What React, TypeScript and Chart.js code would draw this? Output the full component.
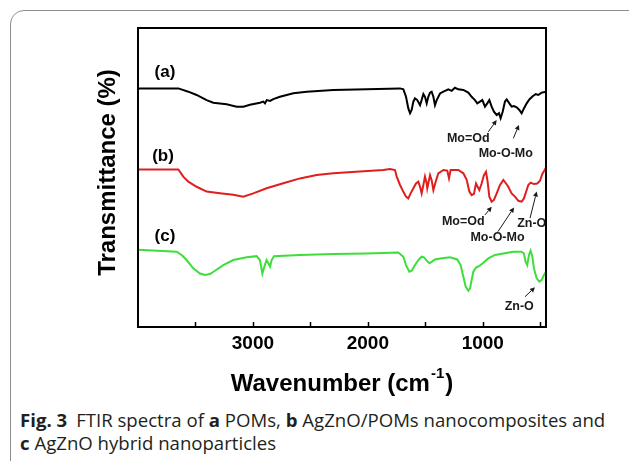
import React, { useEffect, useRef } from "react";
import { Chart, registerables } from "chart.js";

Chart.register(...registerables);

// ---- axis ----
const X_MIN = 450;
const X_MAX = 4000;
const Y_MIN = 0;
const Y_MAX = 100;
const TICK_MARKS = [500, 1000, 1500, 2000, 2500, 3000, 3500];
const TICK_LABELS = [1000, 2000, 3000];
const X_TITLE = "Wavenumber (cm";
const X_TITLE_SUP = "-1";
const X_TITLE_END = ")";
const Y_TITLE = "Transmittance (%)";

// ---- series: [wavenumber cm-1, transmittance (arb.)] ----
const SERIES_A: [number, number][] = [
  [4000, 79.8], [3649, 79.8], [3562, 78.7], [3490, 77.6], [3403, 75.9], [3345, 75.0],
  [3229, 74.5], [3141, 73.7], [3084, 73.7], [3026, 74.3], [2939, 75.0], [2910, 75.4],
  [2895, 74.8], [2880, 75.9], [2851, 75.6], [2823, 76.2], [2765, 77.0], [2648, 78.2],
  [2532, 78.7], [2301, 79.3], [2010, 79.5], [1720, 79.8], [1691, 79.5], [1668, 77.0],
  [1648, 73.1], [1633, 71.5], [1619, 72.6], [1604, 75.4], [1590, 76.5], [1570, 75.9],
  [1546, 74.2], [1532, 75.9], [1517, 77.9], [1503, 77.0], [1488, 74.8], [1474, 77.0],
  [1459, 78.4], [1445, 78.7], [1430, 77.0], [1416, 74.2], [1401, 75.9], [1372, 78.1],
  [1343, 78.7], [1300, 79.5], [1271, 79.0], [1242, 80.0], [1213, 79.5], [1169, 79.3],
  [1126, 78.4], [1097, 77.0], [1068, 75.9], [1048, 74.8], [1024, 75.4], [1004, 75.9],
  [981, 73.7], [961, 74.8], [943, 75.9], [923, 73.7], [903, 72.0], [879, 70.9],
  [859, 71.5], [845, 69.8], [827, 72.0], [807, 75.4], [792, 76.1], [769, 74.8],
  [749, 73.7], [729, 73.9], [705, 73.5], [682, 72.6], [662, 71.5], [642, 73.1],
  [618, 74.8], [595, 76.1], [566, 77.2], [540, 77.9], [517, 77.6], [488, 78.4],
  [459, 78.6], [450, 78.8],
];

const SERIES_B: [number, number][] = [
  [4000, 52.7], [3649, 52.7], [3606, 50.3], [3562, 48.6], [3490, 46.9], [3403, 45.3],
  [3287, 44.7], [3171, 44.2], [3084, 43.6], [2997, 44.7], [2881, 46.4], [2736, 48.1],
  [2591, 49.7], [2446, 50.8], [2301, 51.4], [2069, 52.0], [1866, 52.5], [1807, 52.8],
  [1764, 52.5], [1749, 50.3], [1720, 47.5], [1691, 45.2], [1668, 43.6], [1648, 43.0],
  [1628, 44.7], [1604, 46.4], [1581, 48.0], [1561, 48.6], [1546, 46.9], [1532, 44.7],
  [1517, 47.5], [1503, 50.3], [1488, 48.0], [1483, 46.4], [1471, 48.6], [1459, 50.8],
  [1445, 49.1], [1430, 45.8], [1410, 48.6], [1387, 51.4], [1343, 52.5], [1309, 52.3],
  [1294, 49.7], [1280, 52.5], [1213, 52.5], [1169, 51.4], [1140, 49.2], [1117, 45.3],
  [1097, 44.1], [1077, 44.5], [1059, 48.0], [1045, 46.9], [1030, 45.8], [1010, 48.0],
  [990, 50.8], [972, 51.9], [958, 48.6], [943, 43.6], [923, 41.9], [903, 42.5],
  [879, 44.7], [850, 47.5], [821, 49.2], [798, 48.0], [778, 46.9], [749, 44.7],
  [720, 43.6], [691, 42.2], [662, 41.9], [642, 43.0], [618, 45.8], [604, 47.5],
  [584, 48.3], [555, 47.8], [526, 48.0], [502, 48.9], [482, 51.2], [459, 52.7],
  [450, 53.4],
];

const SERIES_C: [number, number][] = [
  [4000, 25.8], [3664, 25.2], [3620, 24.1], [3577, 22.4], [3519, 19.6], [3461, 17.9],
  [3417, 17.4], [3374, 17.7], [3330, 18.8], [3258, 20.7], [3171, 22.4], [3055, 23.3],
  [2968, 23.7], [2939, 22.4], [2918, 17.9], [2901, 20.2], [2881, 22.4], [2866, 21.3],
  [2851, 20.2], [2837, 22.4], [2817, 23.7], [2591, 24.1], [2301, 24.4], [2010, 24.6],
  [1735, 24.9], [1691, 23.5], [1668, 20.7], [1639, 18.5], [1619, 18.8], [1590, 20.7],
  [1561, 22.4], [1532, 23.5], [1512, 23.3], [1488, 22.2], [1465, 21.3], [1445, 21.8],
  [1416, 22.6], [1372, 22.9], [1285, 23.3], [1222, 22.6], [1193, 20.7], [1169, 16.8],
  [1149, 13.5], [1126, 12.1], [1111, 12.9], [1097, 15.7], [1082, 18.5], [1059, 19.9],
  [1030, 20.4], [995, 21.5], [952, 23.0], [894, 24.1], [821, 24.6], [734, 25.2],
  [662, 25.2], [642, 24.6], [627, 21.8], [613, 20.7], [598, 24.1], [584, 25.5],
  [569, 23.5], [555, 19.6], [531, 16.3], [508, 15.2], [488, 15.7], [468, 17.4],
  [450, 18.5],
];

const SERIES_NAMES = ["(a)", "(b)", "(c)"];
const SERIES_COLORS = ["#000000", "#e01e1e", "#3ede3a"];

// series tags, placed in data units
const SERIES_TAGS: { text: string; wn: number; t: number }[] = [
  { text: "(a)", wn: 3765, t: 85.3 },
  { text: "(b)", wn: 3782, t: 57.0 },
  { text: "(c)", wn: 3765, t: 30.2 },
];

// band assignments: text centre and arrow (from -> to), in data units
const BAND_NOTES: { text: string; wn: number; t: number; from: [number, number]; to: [number, number] }[] = [
  { text: "Mo=Od", wn: 1126, t: 63.1, from: [952, 65.3], to: [879, 69.2] },
  { text: "Mo-O-Mo", wn: 800, t: 58.1, from: [734, 63.1], to: [685, 67.6] },
  { text: "Mo=Od", wn: 1170, t: 35.2, from: [981, 37.5], to: [922, 40.2] },
  { text: "Mo-O-Mo", wn: 872, t: 29.9, from: [868, 31.9], to: [728, 40.0] },
  { text: "Zn-O", wn: 574, t: 34.7, from: [589, 36.4], to: [531, 45.3] },
  { text: "Zn-O", wn: 683, t: 6.8, from: [633, 10.1], to: [546, 13.3] },
];

const FONT = '"Liberation Sans", Arial, Helvetica, sans-serif';

const overlayPlugin = {
  id: "overlay",
  afterDraw(chart: any) {
    const { ctx, chartArea: a, scales } = chart;
    const xs = scales.x;
    const ys = scales.y;
    ctx.save();
    // frame
    ctx.strokeStyle = "#000";
    ctx.lineWidth = 2;
    ctx.strokeRect(a.left, a.top, a.right - a.left, a.bottom - a.top);
    // inward ticks
    ctx.lineWidth = 1.5;
    TICK_MARKS.forEach((v) => {
      const px = Math.round(xs.getPixelForValue(v)) + 0.5;
      ctx.beginPath();
      ctx.moveTo(px, a.bottom);
      ctx.lineTo(px, a.bottom - 5);
      ctx.stroke();
    });
    ctx.fillStyle = "#000";
    // y title
    ctx.font = `bold 24px ${FONT}`;
    ctx.textAlign = "center";
    ctx.textBaseline = "middle";
    ctx.save();
    ctx.translate(a.left - 30, (a.top + a.bottom) / 2 - 5);
    ctx.rotate(-Math.PI / 2);
    ctx.fillText(Y_TITLE, 0, 0);
    ctx.restore();
    // x title with superscript
    const mainFont = `bold 24px ${FONT}`;
    const supFont = `bold 15px ${FONT}`;
    ctx.font = mainFont;
    const w1 = ctx.measureText(X_TITLE).width;
    const w3 = ctx.measureText(X_TITLE_END).width;
    ctx.font = supFont;
    const w2 = ctx.measureText(X_TITLE_SUP).width;
    const total = w1 + w2 + 2 + w3;
    let x0 = (a.left + a.right) / 2 - total / 2;
    const yT = a.bottom + 57;
    ctx.textAlign = "left";
    ctx.font = mainFont;
    ctx.fillText(X_TITLE, x0, yT);
    ctx.font = supFont;
    ctx.fillText(X_TITLE_SUP, x0 + w1 + 1, yT - 10);
    ctx.font = mainFont;
    ctx.fillText(X_TITLE_END, x0 + w1 + w2 + 2, yT);
    // series tags
    ctx.textAlign = "center";
    ctx.font = `bold 17px ${FONT}`;
    SERIES_TAGS.forEach((s) => {
      ctx.fillText(s.text, xs.getPixelForValue(s.wn), ys.getPixelForValue(s.t));
    });
    // band notes + arrows
    ctx.font = `bold 12.5px ${FONT}`;
    ctx.fillStyle = "#1a1a1a";
    ctx.strokeStyle = "#1a1a1a";
    ctx.lineWidth = 1;
    BAND_NOTES.forEach((n) => {
      ctx.fillText(n.text, xs.getPixelForValue(n.wn), ys.getPixelForValue(n.t));
      const x1 = xs.getPixelForValue(n.from[0]);
      const y1 = ys.getPixelForValue(n.from[1]);
      const x2 = xs.getPixelForValue(n.to[0]);
      const y2 = ys.getPixelForValue(n.to[1]);
      const ang = Math.atan2(y2 - y1, x2 - x1);
      const hl = 5;
      const hw = 2.5;
      const bx = x2 - hl * Math.cos(ang);
      const by = y2 - hl * Math.sin(ang);
      ctx.beginPath();
      ctx.moveTo(x1, y1);
      ctx.lineTo(bx, by);
      ctx.stroke();
      ctx.beginPath();
      ctx.moveTo(x2, y2);
      ctx.lineTo(bx + hw * Math.sin(ang), by - hw * Math.cos(ang));
      ctx.lineTo(bx - hw * Math.sin(ang), by + hw * Math.cos(ang));
      ctx.closePath();
      ctx.fill();
    });
    ctx.restore();
  },
};

function ChartCanvas() {
  const ref = useRef<HTMLCanvasElement | null>(null);
  useEffect(() => {
    if (!ref.current) return;
    const seriesList = [SERIES_A, SERIES_B, SERIES_C];
    const chart = new Chart(ref.current, {
      type: "line",
      data: {
        datasets: seriesList.map((s, i) => ({
          label: SERIES_NAMES[i],
          data: s.map(([x, y]) => ({ x, y })),
          borderColor: SERIES_COLORS[i],
          borderWidth: 2,
          pointRadius: 0,
          tension: 0,
          fill: false,
        })),
      },
      options: {
        animation: false,
        responsive: false,
        devicePixelRatio: 1,
        layout: { padding: { left: 138, right: 83, top: 28, bottom: 0 } },
        plugins: { legend: { display: false }, tooltip: { enabled: false } },
        scales: {
          x: {
            type: "linear",
            reverse: true,
            min: X_MIN,
            max: X_MAX,
            grid: { display: false, drawTicks: false },
            border: { display: false },
            afterBuildTicks: (s: any) => {
              s.ticks = TICK_MARKS.map((v) => ({ value: v }));
            },
            afterFit: (s: any) => {
              s.height = 73;
            },
            ticks: {
              autoSkip: false,
              maxRotation: 0,
              padding: 5,
              color: "#000",
              font: { family: FONT, size: 19, weight: "bold" },
              callback: (v: any) => (TICK_LABELS.includes(Number(v)) ? String(v) : ""),
            },
          },
          y: {
            display: false,
            min: Y_MIN,
            max: Y_MAX,
          },
        },
      },
      plugins: [overlayPlugin],
    } as any);
    return () => chart.destroy();
  }, []);
  return (
    <canvas
      ref={ref}
      width={629}
      height={400}
      style={{ position: "absolute", left: 0, top: 0, width: 629, height: 400 }}
    />
  );
}

export default function App() {
  const b: React.CSSProperties = { fontWeight: 700 };
  return (
    <div
      style={{
        position: "fixed",
        left: 0,
        top: 0,
        width: 629,
        height: 461,
        overflow: "hidden",
        background: "#fff",
      }}
    >
      <div
        style={{
          position: "absolute",
          left: 10,
          top: 10,
          width: 640,
          height: 480,
          border: "1.5px solid #8e8e8e",
          borderRadius: 14,
          boxSizing: "border-box",
        }}
      />
      <ChartCanvas />
      <div
        style={{
          position: "absolute",
          left: 20,
          top: 408,
          width: 605,
          fontFamily: '"Open Sans", "Noto Sans", sans-serif',
          fontSize: 18.6,
          lineHeight: "23px",
          color: "#231f20",
          whiteSpace: "nowrap",
        }}
      >
        <div>
          <span style={{ ...b, marginRight: 9 }}>Fig. 3</span>FTIR spectra of <span style={b}>a</span> POMs,{" "}
          <span style={b}>b</span> AgZnO/POMs nanocomposites and
        </div>
        <div>
          <span style={b}>c</span> AgZnO hybrid nanoparticles
        </div>
      </div>
    </div>
  );
}
